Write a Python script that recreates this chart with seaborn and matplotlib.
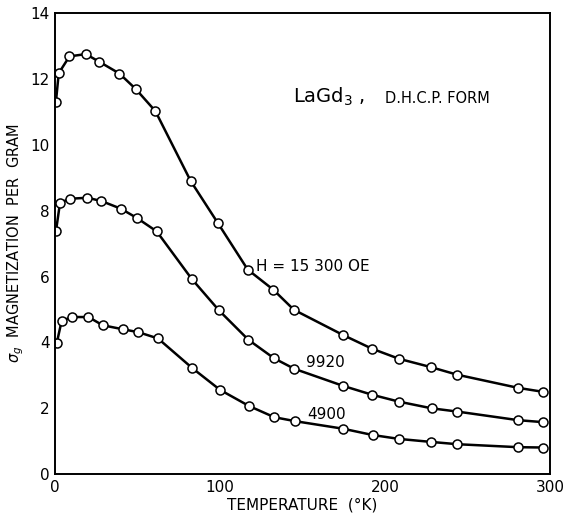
import matplotlib
matplotlib.use("Agg")
import matplotlib.pyplot as plt
import seaborn as sns
import pandas as pd

# ---- data ----
temp_15300 = [0.5, 2.2, 8.7, 18.6, 26.7, 39, 48.9, 60.8, 82.2, 98.6, 116.8, 132.3,
              144.8, 174.4, 192.1, 208.7, 227.9, 243.8, 280.8, 295.9]
sigma_15300 = [11.3, 12.17, 12.68, 12.75, 12.52, 12.16, 11.69, 11.02, 8.90, 7.63, 6.21, 5.60,
               4.99, 4.23, 3.81, 3.50, 3.25, 3.02, 2.62, 2.50]

temp_9920 = [0.5, 3, 9.1, 19.6, 28.1, 39.8, 49.5, 61.6, 82.8, 99.4, 117.2, 132.7,
             145, 174.7, 192.3, 208.7, 228.3, 244, 280.8, 295.9]
sigma_9920 = [7.37, 8.24, 8.36, 8.39, 8.29, 8.06, 7.78, 7.37, 5.93, 4.97, 4.08, 3.52,
              3.20, 2.68, 2.41, 2.20, 2.00, 1.90, 1.64, 1.58]

temp_4900 = [1, 4, 10.5, 20.2, 28.9, 41, 50.5, 62.4, 83.2, 100, 117.6, 132.9,
             145.5, 174.7, 192.5, 208.7, 228, 244, 280.8, 295.9]
sigma_4900 = [3.98, 4.66, 4.77, 4.77, 4.52, 4.40, 4.31, 4.12, 3.22, 2.56, 2.07, 1.73,
              1.61, 1.38, 1.19, 1.07, 0.98, 0.91, 0.82, 0.81]

series_labels = ["H = 15 300 OE", "9920", "4900"]
x_ticks = [0, 100, 200, 300]
y_ticks = [0, 2, 4, 6, 8, 10, 12, 14]

frames = []
for name, t, s in zip(series_labels,
                      [temp_15300, temp_9920, temp_4900],
                      [sigma_15300, sigma_9920, sigma_4900]):
    frames.append(pd.DataFrame({"T": t, "sigma": s, "field": name}))
df = pd.concat(frames, ignore_index=True)

sns.set_theme(style="white")
plt.rcParams["font.family"] = ["DejaVu Sans"]
plt.rcParams["text.color"] = "black"
plt.rcParams["axes.labelcolor"] = "black"

fig = plt.figure(figsize=(5.68, 5.16), dpi=100)
ax = fig.add_axes([0.097, 0.081, 0.871, 0.894])

sns.lineplot(data=df, x="T", y="sigma", hue="field", sort=False,
             palette=["black", "black", "black"], linewidth=1.8,
             marker="o", markersize=6.5, markerfacecolor="white",
             markeredgecolor="black", markeredgewidth=1.1,
             legend=False, ax=ax, estimator=None)

ax.set_xlim(0, 300)
ax.set_ylim(0, 14)
ax.set_xticks(x_ticks)
ax.set_yticks(y_ticks)
ax.tick_params(direction="in", length=6, width=1, colors="black",
               labelsize=11, pad=4)
for sp in ax.spines.values():
    sp.set_color("black")
    sp.set_linewidth(1.4)

ax.set_xlabel("TEMPERATURE  (°K)", fontsize=11, labelpad=2, color="black")
ax.set_ylabel(r"$\sigma_g$  MAGNETIZATION  PER  GRAM", fontsize=10.5,
              labelpad=3, color="black")

ax.text(144, 11.45, r"LaGd$_3$ ,", fontsize=14, ha="left", va="center",
        color="black")
ax.text(200, 11.4, "D.H.C.P. FORM", fontsize=10.5, ha="left", va="center",
        color="black")
ax.text(122, 6.3, series_labels[0], fontsize=11, ha="left", va="center",
        color="black")
ax.text(152, 3.4, series_labels[1], fontsize=11, ha="left", va="center",
        color="black")
ax.text(153, 1.8, series_labels[2], fontsize=11, ha="left", va="center",
        color="black")

fig.savefig("out.png", dpi=100, facecolor="white")
